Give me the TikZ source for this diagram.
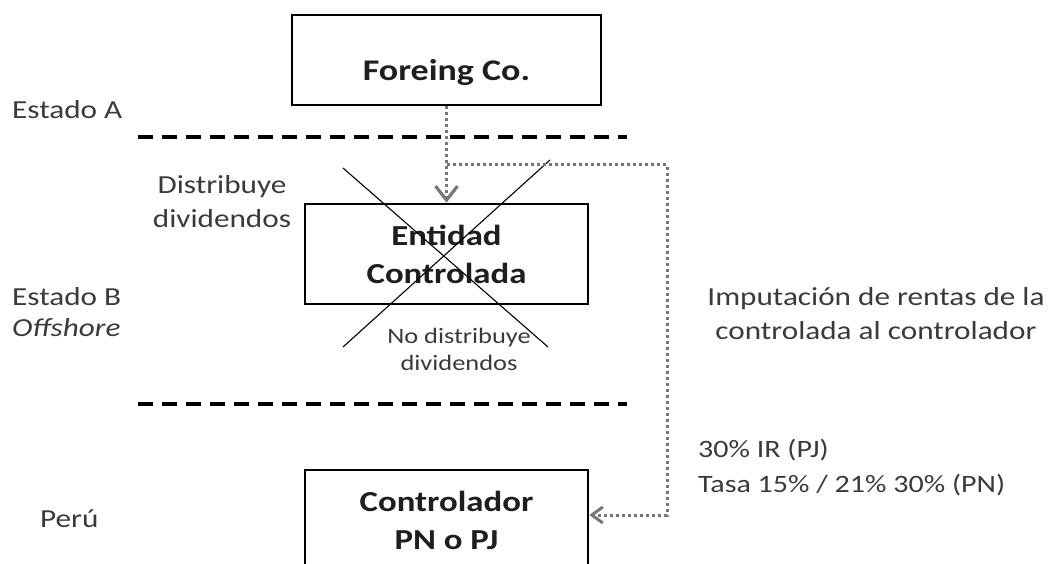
\documentclass[tikz,border=0pt]{standalone}
\usepackage{fontspec}
\setmainfont{Carlito}[FakeStretch=1.2]
\usetikzlibrary{arrows.meta}
\definecolor{txt}{HTML}{3A3A3A}
\definecolor{boldtxt}{HTML}{1E1E1E}
\definecolor{flow}{HTML}{777777}
\tikzset{
  entity/.style={draw=black, line width=2.6pt, minimum width=283pt, minimum height=100pt,
    inner sep=0pt, align=center, text=boldtxt, font=\bfseries\fontsize{29}{38}\selectfont},
  label/.style={inner sep=0pt, text=txt, font=\fontsize{26}{34}\selectfont},
  smalllabel/.style={label, font=\fontsize{22}{27}\selectfont},
  border/.style={line width=3.2pt, dash pattern=on 15pt off 9pt},
  flowline/.style={draw=flow, line width=3pt, dash pattern=on 3pt off 3pt},
  bigtip/.style={-{Straight Barb[length=14pt,width=22pt,line width=3.2pt]}},
  smalltip/.style={-{Straight Barb[length=11pt,width=16pt,line width=3pt]}},
  crossline/.style={line width=1.1pt}
}
\begin{document}
\begin{tikzpicture}[x=1pt, y=-1pt]
  \useasboundingbox (0,0) rectangle (1052,564);
  \clip (0,0) rectangle (1052,564);

  % entities (the top box sets its title a little below the middle)
  \node[entity, minimum width=309pt, minimum height=90pt, text height=42pt, text depth=0pt,
        font=\bfseries\fontsize{30}{38}\selectfont] (foreign) at (446.5,60) {Foreing Co.};
  \node[entity] (cfc) at (446.5,254) {Entidad\\Controlada};
  \node[entity] (ctrl) at (446.5,520) {Controlador\\PN o PJ};

  % borders between states
  \coordinate (bA1) at (138,137);
  \coordinate (bA2) at (627,137);
  \coordinate (bB1) at (138,404);
  \coordinate (bB2) at (627,404);
  \draw[border] (bA1) -- (bA2);
  \draw[border] (bB1) -- (bB2);

  % crossed-out entity
  \coordinate (x1) at (343,168);
  \coordinate (x2) at (548,347);
  \coordinate (x3) at (550,160);
  \coordinate (x4) at (343,347);
  \draw[crossline] (x1) -- (x2);
  \draw[crossline] (x3) -- (x4);

  % flows
  \draw[flowline, bigtip] (foreign.south) -- (cfc.north);
  \coordinate (branch) at (447,165);
  \coordinate (c1) at (667,165);
  \coordinate (c2) at (667,515);
  \draw[flowline, smalltip] (branch) -- (c1) -- (c2) -- (c2 -| ctrl.east);

  % state labels
  \node[label, anchor=west] (stA) at (12,110) {Estado A};
  \node[label, anchor=west] (stB) at (12,297) {Estado B};
  \node[label, anchor=west] (off) at (12,328) {\itshape Offshore};
  \node[label, anchor=west] (peru) at (40,519) {Perú};

  % annotations
  \node[label, align=center] (dist) at (222,202) {Distribuye\\dividendos};
  \node[smalllabel, align=center] (nodist) at (459,349) {No distribuye\\dividendos};
  \node[label, align=center] (imput) at (876,314) {Imputación de rentas de la\\controlada al controlador};
  \node[label, font=\fontsize{25}{35}\selectfont, align=left, anchor=west] (rate) at (698,468)
    {30\% IR (PJ)\\Tasa 15\% / 21\% 30\% (PN)};
\end{tikzpicture}
\end{document}
